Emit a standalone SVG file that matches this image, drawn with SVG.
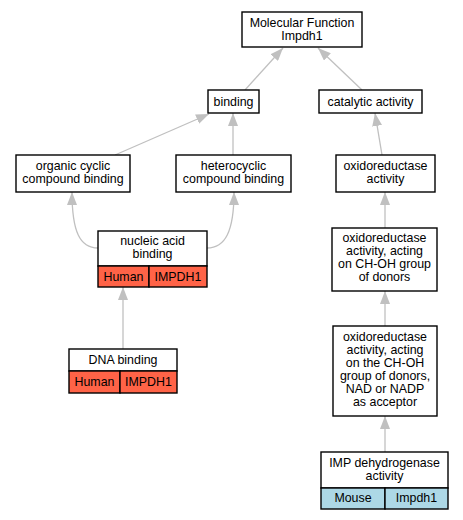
<svg xmlns="http://www.w3.org/2000/svg" width="463" height="520" viewBox="0 0 463 520">
<style>
text{font-family:"Liberation Sans",Arial,sans-serif;font-size:12.4px;fill:#000;text-anchor:middle}
.box{fill:#fff;stroke:#000;stroke-width:1.4}
.hu{fill:#ff6347;stroke:#000;stroke-width:1.4}
.mo{fill:#add8e6;stroke:#000;stroke-width:1.4}
.e{fill:none;stroke:#c0c0c0;stroke-width:1.3;marker-end:url(#ah)}
</style>
<defs>
<marker id="ah" markerUnits="userSpaceOnUse" markerWidth="14" markerHeight="10" refX="13" refY="5" orient="auto">
<path d="M0,0 L13,5 L0,10 z" fill="#c0c0c0"/>
</marker>
</defs>
<rect width="463" height="520" fill="#fff"/>
<g id="edges">
<path class="e" d="M245,90 L283,48"/>
<path class="e" d="M362,90 L318,48"/>
<path class="e" d="M115,155 L209,114"/>
<path class="e" d="M233,155 L233,113"/>
<path class="e" d="M382,155 L375,113"/>
<path class="e" d="M98,248 C80,248 72,232 72,192"/>
<path class="e" d="M207,248 C225,248 234,232 234,192"/>
<path class="e" d="M123,349 L123,287"/>
<path class="e" d="M385,228 L385,192"/>
<path class="e" d="M385,326 L385,291"/>
<path class="e" d="M385,452 L385,416"/>
</g>
<g id="mf">
<rect class="box" x="242" y="12" width="120" height="35"/>
<text x="302" y="27">Molecular Function</text>
<text x="302" y="40">Impdh1</text>
</g>
<g id="binding">
<rect class="box" x="208" y="90" width="51" height="23"/>
<text x="233.5" y="106">binding</text>
</g>
<g id="catalytic">
<rect class="box" x="319" y="90" width="103" height="23"/>
<text x="370.5" y="106">catalytic activity</text>
</g>
<g id="organic">
<rect class="box" x="16" y="155" width="114" height="37"/>
<text x="73" y="170">organic cyclic</text>
<text x="73" y="183">compound binding</text>
</g>
<g id="hetero">
<rect class="box" x="176" y="155" width="115" height="37"/>
<text x="233.5" y="170">heterocyclic</text>
<text x="233.5" y="183">compound binding</text>
</g>
<g id="oxido">
<rect class="box" x="336" y="155" width="99" height="37"/>
<text x="385.5" y="170">oxidoreductase</text>
<text x="385.5" y="183">activity</text>
</g>
<g id="nucleic">
<rect class="box" x="98" y="231" width="109" height="35"/>
<rect class="hu" x="98" y="266" width="51" height="21"/>
<rect class="hu" x="149" y="266" width="58" height="21"/>
<text x="152.5" y="245">nucleic acid</text>
<text x="152.5" y="258">binding</text>
<text x="123.5" y="281">Human</text>
<text x="178" y="281">IMPDH1</text>
</g>
<g id="choh">
<rect class="box" x="332" y="228" width="105" height="63"/>
<text x="384.5" y="242">oxidoreductase</text>
<text x="384.5" y="255">activity, acting</text>
<text x="384.5" y="268">on CH-OH group</text>
<text x="384.5" y="281">of donors</text>
</g>
<g id="dna">
<rect class="box" x="69" y="349" width="108" height="22"/>
<rect class="hu" x="69" y="371" width="51" height="22"/>
<rect class="hu" x="120" y="371" width="57" height="22"/>
<text x="123" y="364">DNA binding</text>
<text x="94.5" y="386">Human</text>
<text x="148.5" y="386">IMPDH1</text>
</g>
<g id="nad">
<rect class="box" x="333" y="326" width="104" height="90"/>
<text x="385" y="341">oxidoreductase</text>
<text x="385" y="354">activity, acting</text>
<text x="385" y="367">on the CH-OH</text>
<text x="385" y="380">group of donors,</text>
<text x="385" y="393">NAD or NADP</text>
<text x="385" y="406">as acceptor</text>
</g>
<g id="imp">
<rect class="box" x="321" y="452" width="127" height="36"/>
<rect class="mo" x="321" y="488" width="64" height="21"/>
<rect class="mo" x="385" y="488" width="63" height="21"/>
<text x="384.5" y="467">IMP dehydrogenase</text>
<text x="384.5" y="480">activity</text>
<text x="353" y="502">Mouse</text>
<text x="416.5" y="502">Impdh1</text>
</g>
</svg>
